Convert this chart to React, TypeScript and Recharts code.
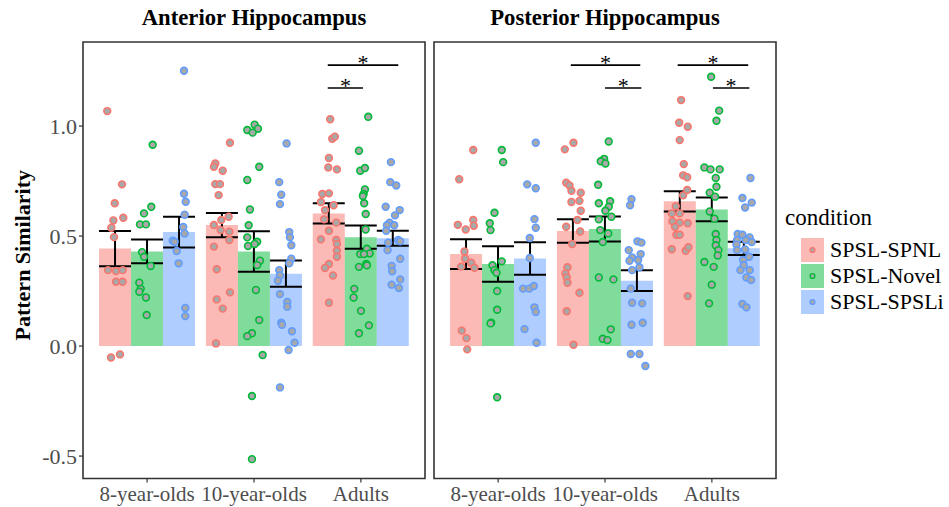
import { ComposedChart, Bar, ErrorBar, Scatter, XAxis, YAxis, ReferenceArea, ReferenceLine } from 'recharts';

const FONT = '"Liberation Serif", "Times New Roman", serif';

const groups = ['8-year-olds', '10-year-olds', 'Adults'];
const conditions = ['SPSL-SPNL', 'SPSL-Novel', 'SPSL-SPSLi'];
const colors = ['#F8766D', '#00BA38', '#619CFF'];
const yTicks = [-0.5, 0, 0.5, 1.0];

// bar means and standard errors, one per age group
const antSpnlMean = [0.443, 0.55, 0.603];
const antSpnlSe = [0.08, 0.055, 0.046];
const antNovelMean = [0.43, 0.43, 0.495];
const antNovelSe = [0.054, 0.092, 0.053];
const antSpsliMean = [0.518, 0.329, 0.49];
const antSpsliSe = [0.07, 0.06, 0.034];

const postSpnlMean = [0.418, 0.523, 0.658];
const postSpnlSe = [0.068, 0.053, 0.046];
const postNovelMean = [0.373, 0.532, 0.621];
const postNovelSe = [0.081, 0.057, 0.054];
const postSpsliMean = [0.398, 0.297, 0.444];
const postSpsliSe = [0.074, 0.047, 0.03];

// individual subjects: [jittered x position, pattern similarity]
const antSpnlPts = [
  [0.627, 1.068], [0.765, 0.735], [0.697, 0.649], [0.684, 0.571], [0.777, 0.583], [0.665, 0.538], [0.69, 0.495],
  [0.634, 0.345], [0.709, 0.341], [0.771, 0.345], [0.709, 0.292], [0.771, 0.292], [0.662, -0.052], [0.746, -0.038],
  [1.775, 0.924], [1.638, 0.83], [1.625, 0.815], [1.707, 0.797], [1.638, 0.736], [1.682, 0.736], [1.669, 0.686],
  [1.694, 0.573], [1.763, 0.588], [1.625, 0.55], [1.688, 0.527], [1.769, 0.52], [1.769, 0.482], [1.625, 0.452],
  [1.651, 0.349], [1.775, 0.244], [1.651, 0.212], [1.707, 0.17], [1.644, 0.012],
  [2.713, 1.031], [2.732, 0.942], [2.757, 0.952], [2.701, 0.855], [2.695, 0.812], [2.776, 0.803], [2.639, 0.691],
  [2.701, 0.694], [2.626, 0.655], [2.745, 0.64], [2.664, 0.618], [2.657, 0.576], [2.77, 0.561], [2.701, 0.524],
  [2.626, 0.485], [2.77, 0.482], [2.776, 0.464], [2.776, 0.433], [2.776, 0.406], [2.701, 0.373], [2.664, 0.355],
  [2.739, 0.321], [2.701, 0.197],
];
const antNovelPts = [
  [1.052, 0.915], [1.039, 0.633], [0.971, 0.603], [0.933, 0.553], [0.989, 0.553], [0.952, 0.427], [0.971, 0.406],
  [1.033, 0.364], [0.927, 0.288], [0.94, 0.26], [0.927, 0.247], [0.989, 0.221], [0.996, 0.141],
  [2.006, 1.006], [2.037, 0.988], [1.937, 0.982], [1.987, 0.97], [2.049, 0.815], [1.937, 0.755], [1.962, 0.621],
  [1.95, 0.549], [1.937, 0.494], [2.03, 0.474], [1.944, 0.455], [2.006, 0.464], [2.056, 0.388], [2.03, 0.368],
  [2.018, 0.255], [2.049, 0.118], [1.981, 0.058], [1.937, 0.045], [2.081, -0.041], [1.981, -0.227], [1.981, -0.514],
  [3.069, 1.042], [2.982, 0.888], [2.994, 0.797], [3.038, 0.809], [3.038, 0.712], [3.026, 0.691], [3.019, 0.682],
  [3.031, 0.649], [3.045, 0.6], [3.045, 0.53], [3.057, 0.442], [3.082, 0.421], [2.994, 0.418], [3.029, 0.418],
  [3.05, 0.373], [3.057, 0.367], [2.982, 0.36], [2.938, 0.26], [2.932, 0.221], [3.001, 0.16], [3.075, 0.094],
  [2.982, 0.058],
];
const antSpsliPts = [
  [1.345, 1.251], [1.345, 0.692], [1.361, 0.656], [1.351, 0.597], [1.338, 0.541], [1.351, 0.512], [1.239, 0.479],
  [1.258, 0.474], [1.277, 0.432], [1.295, 0.376], [1.357, 0.173], [1.357, 0.136],
  [2.305, 0.921], [2.236, 0.745], [2.255, 0.688], [2.243, 0.645], [2.33, 0.518], [2.336, 0.494], [2.349, 0.458],
  [2.349, 0.397], [2.33, 0.376], [2.236, 0.345], [2.243, 0.321], [2.224, 0.297], [2.243, 0.236], [2.311, 0.2],
  [2.311, 0.179], [2.255, 0.106], [2.262, 0.097], [2.355, 0.067], [2.38, 0.015], [2.324, -0.018], [2.243, -0.188],
  [3.281, 0.836], [3.275, 0.745], [3.331, 0.73], [3.232, 0.633], [3.363, 0.618], [3.319, 0.594], [3.269, 0.561],
  [3.244, 0.549], [3.312, 0.549], [3.237, 0.524], [3.349, 0.482], [3.368, 0.476], [3.256, 0.47], [3.25, 0.436],
  [3.368, 0.397], [3.288, 0.364], [3.293, 0.34], [3.368, 0.303], [3.288, 0.279], [3.356, 0.264],
];

const postSpnlPts = [
  [0.767, 0.891], [0.636, 0.758], [0.623, 0.551], [0.697, 0.53], [0.767, 0.573], [0.772, 0.547], [0.685, 0.43],
  [0.692, 0.397], [0.748, 0.379], [0.654, 0.361], [0.779, 0.356], [0.66, 0.07], [0.704, 0.036], [0.711, -0.015],
  [1.705, 0.924], [1.624, 0.894], [1.637, 0.742], [1.668, 0.73], [1.686, 0.706], [1.773, 0.697], [1.686, 0.655],
  [1.761, 0.66], [1.773, 0.615], [1.742, 0.573], [1.637, 0.542], [1.768, 0.521], [1.693, 0.464], [1.649, 0.358],
  [1.63, 0.33], [1.642, 0.312], [1.649, 0.288], [1.761, 0.242], [1.642, 0.158], [1.705, 0.006],
  [2.712, 1.118], [2.694, 1.015], [2.774, 0.997], [2.699, 0.936], [2.737, 0.827], [2.731, 0.776], [2.769, 0.767],
  [2.769, 0.709], [2.731, 0.685], [2.662, 0.636], [2.625, 0.603], [2.699, 0.603], [2.631, 0.567], [2.699, 0.561],
  [2.774, 0.558], [2.656, 0.542], [2.668, 0.506], [2.699, 0.506], [2.625, 0.44], [2.755, 0.433], [2.781, 0.449],
  [2.774, 0.227],
];
const postNovelPts = [
  [1.034, 0.891], [1.047, 0.836], [0.966, 0.606], [0.922, 0.558], [0.929, 0.527], [0.947, 0.367], [1.034, 0.385],
  [0.966, 0.345], [0.985, 0.333], [0.991, 0.25], [0.991, 0.165], [0.935, 0.106], [0.929, 0.103], [0.991, -0.233],
  [2.035, 0.93], [1.992, 0.851], [1.96, 0.84], [2.004, 0.83], [1.936, 0.733], [1.942, 0.649], [2.048, 0.658],
  [2.035, 0.633], [2.004, 0.615], [2.06, 0.588], [1.942, 0.576], [1.955, 0.527], [2.03, 0.512], [1.979, 0.473],
  [1.942, 0.312], [2.079, 0.303], [2.054, 0.076], [1.979, 0.033], [2.023, 0.027],
  [2.993, 1.224], [3.068, 1.07], [3.043, 1.024], [2.93, 0.812], [2.987, 0.803], [3.073, 0.803], [3.036, 0.764],
  [3.043, 0.724], [2.98, 0.697], [3.03, 0.679], [2.98, 0.612], [3.024, 0.579], [3.036, 0.509], [3.043, 0.482],
  [3.036, 0.458], [3.061, 0.436], [3.055, 0.412], [2.93, 0.382], [3.017, 0.36], [2.999, 0.279], [2.974, 0.194],
];
const postSpsliPts = [
  [1.352, 0.924], [1.272, 0.735], [1.352, 0.717], [1.34, 0.577], [1.352, 0.538], [1.296, 0.491], [1.296, 0.4],
  [1.234, 0.261], [1.291, 0.261], [1.334, 0.273], [1.34, 0.176], [1.352, 0.155], [1.247, 0.077], [1.359, 0.015],
  [2.248, 0.667], [2.235, 0.64], [2.304, 0.476], [2.341, 0.47], [2.222, 0.436], [2.334, 0.418], [2.254, 0.403],
  [2.31, 0.391], [2.229, 0.388], [2.322, 0.358], [2.254, 0.345], [2.241, 0.261], [2.254, 0.197], [2.348, 0.194],
  [2.248, 0.097], [2.353, 0.106], [2.241, -0.036], [2.322, -0.036], [2.378, -0.091],
  [3.361, 0.764], [3.286, 0.673], [3.373, 0.652], [3.311, 0.63], [3.242, 0.509], [3.286, 0.506], [3.354, 0.494],
  [3.236, 0.482], [3.317, 0.482], [3.373, 0.473], [3.23, 0.461], [3.236, 0.436], [3.311, 0.439], [3.349, 0.406],
  [3.292, 0.391], [3.298, 0.367], [3.267, 0.345], [3.354, 0.345], [3.323, 0.312], [3.367, 0.3], [3.286, 0.191],
  [3.323, 0.176],
];

// significance brackets: [x start, x end, height]
const antBrackets = [[2.69, 3.35, 1.277], [2.69, 3.02, 1.173]];
const postBrackets = [[1.68, 2.33, 1.277], [2.0, 2.34, 1.173], [2.68, 3.34, 1.277], [3.01, 3.35, 1.173]];

const Y_DOMAIN = [-0.602, 1.382];
const PAD = 10.69;

const dot = (color: string) => (props: any) => (
  <circle cx={props.cx} cy={props.cy} r={3.4} fill="#A8A8A8" stroke={color} strokeWidth={1.6} />
);

function Panel({ means, ses, points, brackets, showY, width, margin }: any) {
  const data = groups.map((g, i) => ({
    group: g,
    m0: means[0][i], e0: ses[0][i],
    m1: means[1][i], e1: ses[1][i],
    m2: means[2][i], e2: ses[2][i],
  }));
  return (
    <ComposedChart width={width} height={507} data={data} margin={margin} barCategoryGap="5%" barGap={0}>
      <XAxis
        xAxisId="cat"
        dataKey="group"
        padding={{ left: PAD, right: PAD }}
        height={28.5}
        interval={0}
        tickSize={4}
        tickMargin={4}
        axisLine={false}
        tickLine={{ stroke: '#333', strokeWidth: 1.2 }}
        tick={{ fontSize: 21, fill: '#4D4D4D', fontFamily: FONT }}
      />
      <XAxis xAxisId="err" dataKey="group" padding={{ left: PAD, right: PAD }} hide />
      <XAxis xAxisId="num" type="number" dataKey="x" domain={[0.4, 3.6]} allowDataOverflow hide />
      <YAxis
        domain={Y_DOMAIN}
        ticks={yTicks}
        allowDataOverflow
        hide={!showY}
        width={83}
        tickSize={4}
        tickMargin={2}
        axisLine={false}
        tickLine={{ stroke: '#333', strokeWidth: 1.2 }}
        tickFormatter={(v: number) => v.toFixed(1)}
        tick={{ fontSize: 22, fill: '#4D4D4D', fontFamily: FONT }}
        label={{
          value: 'Pattern Similarity',
          angle: -90,
          position: 'insideLeft',
          offset: 22,
          dy: -5,
          style: { textAnchor: 'middle' },
          fontSize: 22,
          fontWeight: 'bold',
          fill: '#000',
          fontFamily: FONT,
        }}
      />
      {[0, 1, 2].map((k) => (
        <Bar key={'b' + k} xAxisId="cat" dataKey={'m' + k} fill={colors[k]} fillOpacity={0.5} isAnimationActive={false} />
      ))}
      {points.map((pts: number[][], k: number) => (
        <Scatter
          key={'s' + k}
          xAxisId="num"
          dataKey="y"
          data={pts.map(([x, y]) => ({ x, y }))}
          shape={dot(colors[k])}
          isAnimationActive={false}
        />
      ))}
      {[0, 1, 2].map((k) => (
        <Bar key={'e' + k} xAxisId="err" dataKey={'m' + k} fill="none" isAnimationActive={false}>
          <ErrorBar dataKey={'e' + k} width={16} stroke="#000" strokeWidth={2} direction="y" />
        </Bar>
      ))}
      {brackets.map(([x1, x2, y]: number[], i: number) => (
        <ReferenceLine
          key={'r' + i}
          xAxisId="num"
          segment={[{ x: x1, y }, { x: x2, y }]}
          stroke="#000"
          strokeWidth={1.6}
          label={{ value: '*', position: 'top', offset: -5, fontSize: 22, fill: '#000', fontFamily: FONT }}
        />
      ))}
      <ReferenceArea
        xAxisId="num"
        x1={0.4}
        x2={3.6}
        y1={Y_DOMAIN[0]}
        y2={Y_DOMAIN[1]}
        fill="none"
        stroke="#333"
        strokeWidth={1.6}
        ifOverflow="visible"
      />
    </ComposedChart>
  );
}

export default function App() {
  const title = { position: 'absolute' as const, top: 5, width: 342, textAlign: 'center' as const, fontSize: 22.7, fontWeight: 'bold' as const, lineHeight: '26px' };
  return (
    <div style={{ position: 'absolute', left: 0, top: 0, width: 949, height: 507, background: '#fff', fontFamily: FONT }}>
      <div style={{ ...title, left: 83 }}>Anterior Hippocampus</div>
      <div style={{ ...title, left: 434 }}>Posterior Hippocampus</div>
      <div style={{ position: 'absolute', left: 0, top: 0 }}>
        <Panel
          means={[antSpnlMean, antNovelMean, antSpsliMean]}
          ses={[antSpnlSe, antNovelSe, antSpsliSe]}
          points={[antSpnlPts, antNovelPts, antSpsliPts]}
          brackets={antBrackets}
          showY
          width={430}
          margin={{ top: 42, right: 5, left: 0, bottom: 0 }}
        />
      </div>
      <div style={{ position: 'absolute', left: 429, top: 0 }}>
        <Panel
          means={[postSpnlMean, postNovelMean, postSpsliMean]}
          ses={[postSpnlSe, postNovelSe, postSpsliSe]}
          points={[postSpnlPts, postNovelPts, postSpsliPts]}
          brackets={postBrackets}
          showY={false}
          width={350}
          margin={{ top: 42, right: 3, left: 5, bottom: 0 }}
        />
      </div>
      <div style={{ position: 'absolute', left: 785, top: 204, fontSize: 23, lineHeight: '28px' }}>condition</div>
      {conditions.map((c, k) => (
        <div key={c} style={{ position: 'absolute', left: 801, top: 238 + k * 26, height: 24, display: 'flex', alignItems: 'center' }}>
          <svg width={23} height={24}>
            <rect x={0} y={0} width={23} height={24} fill={colors[k]} fillOpacity={0.5} />
            <circle cx={11.5} cy={12} r={2.4} fill="#A8A8A8" stroke={colors[k]} strokeWidth={1.4} />
          </svg>
          <span style={{ marginLeft: 6, fontSize: 22, lineHeight: '24px' }}>{c}</span>
        </div>
      ))}
    </div>
  );
}
